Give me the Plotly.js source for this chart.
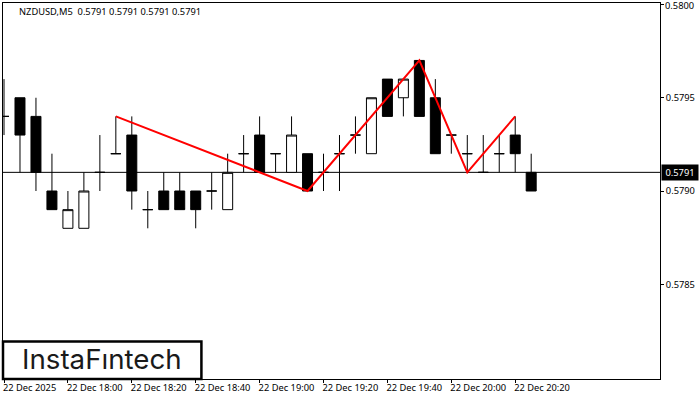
<!DOCTYPE html>
<html>
<head>
<meta charset="utf-8">
<script src="https://cdn.plot.ly/plotly-3.0.1.min.js"></script>
<style>html,body{margin:0;padding:0;background:#fff}</style>
</head>
<body>
<div id="plot" style="width:700px;height:400px"></div>
<script>
const times = [
  '2025-12-22 17:40','2025-12-22 17:45','2025-12-22 17:50','2025-12-22 17:55',
  '2025-12-22 18:00','2025-12-22 18:05','2025-12-22 18:10','2025-12-22 18:15',
  '2025-12-22 18:20','2025-12-22 18:25','2025-12-22 18:30','2025-12-22 18:35',
  '2025-12-22 18:40','2025-12-22 18:45','2025-12-22 18:50','2025-12-22 18:55',
  '2025-12-22 19:00','2025-12-22 19:05','2025-12-22 19:10','2025-12-22 19:15',
  '2025-12-22 19:20','2025-12-22 19:25','2025-12-22 19:30','2025-12-22 19:35',
  '2025-12-22 19:40','2025-12-22 19:45','2025-12-22 19:50','2025-12-22 19:55',
  '2025-12-22 20:00','2025-12-22 20:05','2025-12-22 20:10','2025-12-22 20:15',
  '2025-12-22 20:20','2025-12-22 20:25'
];
const open  = [.5794,.5795,.5794,.5790,.5788,.5788,.5791,.5792,.5793,.5789,.5790,.5790,.5790,.5790,.5789,.5792,.5793,.5792,.5791,.5792,.5791,.5792,.5793,.5792,.5796,.5795,.5797,.5795,.5793,.5792,.5791,.5792,.5793,.5791];
const high  = [.5796,.5795,.5795,.5792,.5790,.5791,.5793,.5794,.5794,.5790,.5791,.5791,.5790,.5791,.5792,.5793,.5794,.5792,.5794,.5792,.5792,.5793,.5794,.5795,.5796,.5796,.5797,.5796,.5793,.5793,.5793,.5793,.5794,.5792];
const low   = [.5793,.5791,.5790,.5789,.5788,.5788,.5790,.5792,.5789,.5788,.5789,.5789,.5788,.5789,.5789,.5791,.5791,.5791,.5791,.5790,.5790,.5790,.5792,.5792,.5794,.5794,.5794,.5792,.5792,.5791,.5791,.5791,.5791,.5790];
const close = [.5794,.5793,.5791,.5789,.5789,.5790,.5791,.5792,.5790,.5789,.5789,.5789,.5789,.5790,.5791,.5792,.5791,.5792,.5793,.5790,.5791,.5792,.5793,.5795,.5794,.5796,.5794,.5792,.5793,.5792,.5791,.5792,.5792,.5790];

const patternTimes = ['2025-12-22 18:15','2025-12-22 19:15','2025-12-22 19:50','2025-12-22 20:05','2025-12-22 20:20'];
const patternPrices = [.5794,.5790,.5797,.5791,.5794];

const tickTimes = ['2025-12-22 17:40','2025-12-22 18:00','2025-12-22 18:20','2025-12-22 18:40','2025-12-22 19:00','2025-12-22 19:20','2025-12-22 19:40','2025-12-22 20:00','2025-12-22 20:20'];
const tickLabels = ['22 Dec 2025','22 Dec 18:00','22 Dec 18:20','22 Dec 18:40','22 Dec 19:00','22 Dec 19:20','22 Dec 19:40','22 Dec 20:00','22 Dec 20:20'];
const priceTicks = [.5785,.5790,.5795,.5800];
const lastPrice = .5791;

const chartFont = 'Noto Sans, sans-serif';
const fontSize = 9.3;

var candles = {
  type: 'candlestick',
  x: times, open: open, high: high, low: low, close: close,
  increasing: {line: {color: '#000', width: 1}, fillcolor: '#fff'},
  decreasing: {line: {color: '#000', width: 1}, fillcolor: '#000'},
  hoverinfo: 'skip'
};
var pattern = {
  type: 'scatter', mode: 'lines',
  x: patternTimes, y: patternPrices,
  line: {color: '#ff0000', width: 2},
  hoverinfo: 'skip'
};

const layout = {
  width: 700, height: 400,
  margin: {l: 2.5, r: 39.5, t: 2.5, b: 20.5},
  showlegend: false,
  boxgap: 0.107,
  paper_bgcolor: '#fff', plot_bgcolor: '#fff',
  font: {family: chartFont, size: fontSize, color: '#000'},
  xaxis: {
    type: 'date',
    range: ['2025-12-22 17:39:41', '2025-12-22 21:05:19'],
    rangeslider: {visible: false},
    tickmode: 'array', tickvals: tickTimes, ticktext: tickLabels,
    tickangle: 0,
    ticklabelposition: 'outside right',
    ticklabelshift: -2,
    ticks: 'outside', ticklen: 3, tickcolor: '#000', tickwidth: 1,
    showgrid: false, zeroline: false,
    showline: true, mirror: true, linecolor: '#000', linewidth: 1,
    tickfont: {family: chartFont, size: fontSize, color: '#000'}
  },
  yaxis: {
    side: 'right',
    range: [.577992, .580008],
    tickmode: 'array', tickvals: priceTicks,
    ticktext: priceTicks.map(p => p === .5800 ? '' : p.toFixed(4)),
    ticks: 'outside', ticklen: 3, tickcolor: '#000', tickwidth: 1,
    showgrid: false, zeroline: false,
    showline: true, mirror: true, linecolor: '#000', linewidth: 1,
    tickfont: {family: chartFont, size: fontSize, color: '#000'}
  },
  shapes: [
    {type: 'line', layer: 'below', xref: 'paper', x0: 0, x1: 1, yref: 'y', y0: lastPrice, y1: lastPrice,
     line: {color: '#000', width: 1}},
    {type: 'rect', xref: 'paper', yref: 'paper', x0: 0, x1: 0.302, y0: 0, y1: 0.1,
     fillcolor: '#fff', line: {color: '#000', width: 2.5}}
  ],
  annotations: [
    {xref: 'paper', yref: 'paper', x: 0.022, y: 0.9995, xanchor: 'left', yanchor: 'top', showarrow: false,
     text: 'NZDUSD,M5  0.5791 0.5791 0.5791 0.5791', font: {family: chartFont, size: fontSize, color: '#000'}},
    {xref: 'paper', yref: 'y', x: 1.006, y: .5800, yshift: -1, xanchor: 'left', yanchor: 'middle', showarrow: false,
     text: (.5800).toFixed(4), borderpad: 0, font: {family: chartFont, size: fontSize, color: '#000'}},
    {xref: 'paper', yref: 'y', x: 1.0015, y: lastPrice, xanchor: 'left', yanchor: 'middle', showarrow: false,
     text: lastPrice.toFixed(4), bgcolor: '#000', borderpad: 1, width: 34,
     font: {family: chartFont, size: fontSize, color: '#fff'}},
    {xref: 'paper', yref: 'paper', x: 0.151, y: 0.052, xanchor: 'center', yanchor: 'middle', showarrow: false,
     text: 'InstaF\u0131ntech', font: {family: 'Inter, sans-serif', size: 27.7, color: '#1a1a1a'}}
  ]
};

Plotly.newPlot('plot', [candles, pattern], layout, {displayModeBar: false, staticPlot: true});
</script>
</body>
</html>
